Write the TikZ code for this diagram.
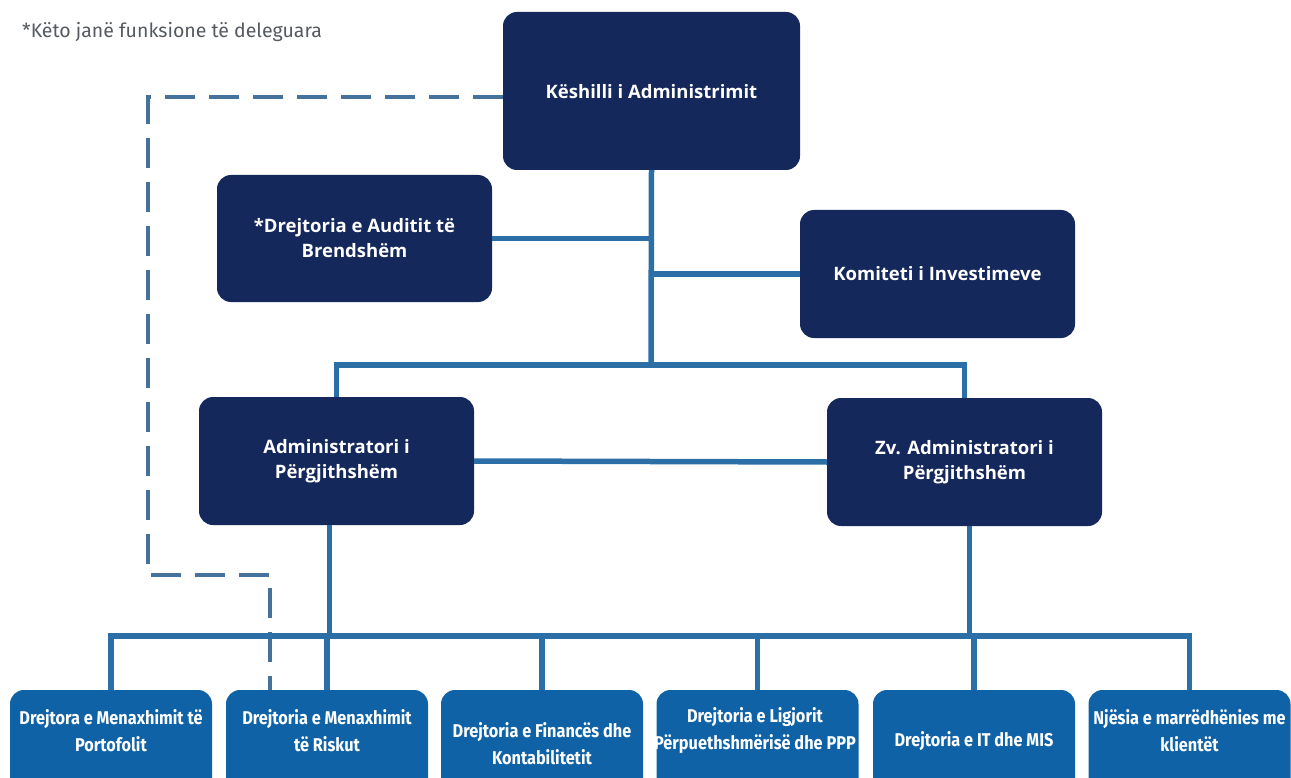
\documentclass[tikz,border=0pt]{standalone}
\usepackage{fontspec}
\setmainfont{Open Sans}
\newfontfamily\boxfont{Open Sans}
\newfontfamily\smallfont[FakeStretch=0.88]{Fira Sans}
\newfontfamily\notefont{Fira Sans}
\definecolor{navy}{HTML}{15285B}
\definecolor{midblue}{HTML}{0F62A6}
\definecolor{linkblue}{HTML}{2C6FA6}
\definecolor{dashblue}{HTML}{45729A}
\definecolor{notegray}{HTML}{555A60}
\tikzset{
  topbox/.style={draw=none, fill=navy, rounded corners=14pt, inner sep=0pt, outer sep=0pt,
    text=white, align=center, font=\boxfont\fontsize{18.5}{25}\selectfont\bfseries},
  lowbox/.style={draw=none, fill=midblue, rounded corners=14pt, inner sep=0pt, outer sep=0pt,
    minimum width=202pt, minimum height=110pt},
  lowtext/.style={text=white, align=center, inner sep=0pt,
    font=\smallfont\fontsize{18.5}{27}\selectfont\bfseries},
  link/.style={draw=linkblue, line width=5.5pt, line join=miter},
  dashlink/.style={draw=dashblue, line width=3.2pt, dash pattern=on 30pt off 14pt},
}
\begin{document}
\begin{tikzpicture}[x=1pt,y=-1pt]
\useasboundingbox (0,0) rectangle (1291,778);
\clip (0,0) rectangle (1291,778);
\node[anchor=west, text=notegray, inner sep=0pt, font=\notefont\fontsize{19.5}{22}\selectfont] (note) at (22,32) {*Këto janë funksione të deleguara};

\node[topbox, minimum width=297pt, minimum height=158pt, text depth=-8pt] (k) at (651.5,91) {Këshilli i Administrimit};
\node[topbox, minimum width=275pt, minimum height=127pt] (a) at (354.5,238.5) {*Drejtoria e Auditit të\\Brendshëm};
\node[topbox, minimum width=275pt, minimum height=128pt] (c) at (937.5,274) {Komiteti i Investimeve};
\node[topbox, minimum width=275pt, minimum height=128pt] (adm) at (336.5,461) {Administratori i\\Përgjithshëm};
\node[topbox, minimum width=275pt, minimum height=128pt] (zv) at (964.5,462) {Zv. Administratori i\\Përgjithshëm};

\node[lowbox] (b1) at (111,745) {};
\node[lowbox] (b2) at (327,745) {};
\node[lowbox] (b3) at (542,745) {};
\node[lowbox] (b4) at (757.5,745) {};
\node[lowbox] (b5) at (974,745) {};
\node[lowbox] (b6) at (1189.5,745) {};

\node[lowtext] (t1) at (111,731) {Drejtora e Menaxhimit të\\Portofolit};
\node[lowtext] (t2) at (327,731) {Drejtoria e Menaxhimit\\të Riskut};
\node[lowtext] (t3) at (542,744) {Drejtoria e Financës dhe\\Kontabilitetit};
\node[lowtext] (t4) at (755,731) {Drejtoria e Ligjorit\\Përpuethshmërisë dhe PPP};
\node[lowtext] (t5) at (974,741) {Drejtoria e IT dhe MIS};
\node[lowtext] (t6) at (1189.5,731) {Njësia e marrëdhënies me\\klientët};

\coordinate (top) at (651,365);
\coordinate (bus) at (0,636);
\coordinate (d1) at (148,97);
\coordinate (d2) at (148,575);
\coordinate (d3) at (270,575);

% dashed delegation line
\draw[dashlink] ([yshift=-6pt]k.west) -- (d1) -- (d2) -- (d3) -- (d3 |- b2.north);

% solid links
\draw[link] (k.south) -- (top);
\draw[link] (a.east) -- (a.east -| top);
\draw[link] (c.west) -- (c.west -| top);
\draw[link] (adm.north) -- (adm.north |- top) -- (zv.north |- top) -- (zv.north);
\draw[link] (adm.east) -- (zv.west);
\draw[link] ([xshift=-7pt]adm.south) -- ([xshift=-7pt]adm.south |- bus);
\draw[link] ([xshift=5pt]zv.south) -- ([xshift=5pt]zv.south |- bus);
\draw[link] (b1.north) -- (b1.north |- bus) -- (b6.north |- bus) -- (b6.north);
\draw[link] (b2.north) -- (b2.north |- bus);
\draw[link] (b3.north) -- (b3.north |- bus);
\draw[link] (b4.north) -- (b4.north |- bus);
\draw[link] (b5.north) -- (b5.north |- bus);
\end{tikzpicture}
\end{document}
